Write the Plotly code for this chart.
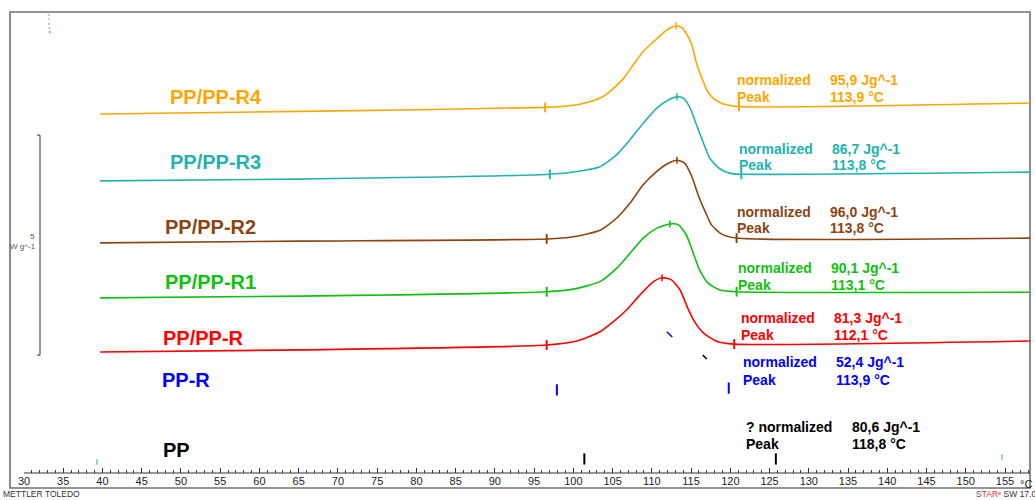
import plotly.graph_objects as go

# ---------------- data ----------------
names = ["PP/PP-R4", "PP/PP-R3", "PP/PP-R2", "PP/PP-R1", "PP/PP-R", "PP-R", "PP"]
colors = ["#FFA500", "#22B3B0", "#8B4513", "#11C011", "#FF0000", "#0000FF", "#000000"]
enthalpy = [95.9, 86.7, 96.0, 90.1, 81.3, 52.4, 80.6]      # J/g
peak_temp = [113.9, 113.8, 113.8, 113.1, 112.1, 113.9, 118.8]  # °C
prefix = ["", "", "", "", "", "", "? "]

# temperature (°C) / heat flow (W/g, with display offsets)
t_r4 = [39.7, 65.2, 96.4, 100.0, 102.1, 103.6, 104.9, 106.4, 107.6, 108.9, 110.2, 111.5, 112.5, 113.1,
        113.8, 114.4, 115.1, 115.7, 116.4, 117.0, 117.8, 119.1, 121.1, 158.2]
h_r4 = [6.50, 6.56, 6.65, 6.70, 6.78, 6.88, 7.05, 7.31, 7.61, 7.92, 8.14, 8.35, 8.47, 8.50,
        8.47, 8.33, 8.07, 7.65, 7.31, 7.05, 6.86, 6.73, 6.67, 6.75]

t_r3 = [39.7, 65.2, 97.0, 100.0, 103.4, 105.5, 107.2, 108.9, 110.6, 112.1, 113.2, 114.0, 114.9,
        115.7, 116.6, 117.4, 118.7, 120.0, 121.4, 158.2]
h_r3 = [4.98, 5.02, 5.13, 5.18, 5.30, 5.57, 5.91, 6.29, 6.63, 6.82, 6.89, 6.86, 6.63,
        6.25, 5.83, 5.49, 5.25, 5.15, 5.13, 5.18]

t_r2 = [39.7, 65.2, 96.6, 100.0, 103.4, 105.5, 107.2, 108.9, 110.6, 112.1, 113.2, 114.2, 115.1,
        115.9, 116.8, 117.6, 118.9, 120.8, 158.2]
h_r2 = [3.57, 3.61, 3.66, 3.71, 3.86, 4.13, 4.47, 4.89, 5.19, 5.38, 5.45, 5.38, 5.08,
        4.66, 4.28, 3.98, 3.77, 3.68, 3.68]

t_r1 = [39.7, 65.2, 96.6, 100.0, 103.4, 105.5, 107.2, 108.9, 110.6, 112.3, 113.4, 114.4, 115.3,
        116.1, 117.2, 118.7, 120.8, 158.2]
h_r1 = [2.32, 2.36, 2.46, 2.52, 2.69, 2.99, 3.33, 3.68, 3.90, 4.00, 3.98, 3.75, 3.33,
        2.95, 2.65, 2.50, 2.46, 2.45]

t_r = [39.7, 65.2, 96.6, 100.8, 103.4, 105.1, 106.8, 108.5, 110.2, 111.3, 112.5, 113.6, 114.6,
       115.3, 116.6, 118.3, 120.5, 158.2]
h_r = [1.09, 1.14, 1.25, 1.36, 1.55, 1.78, 2.05, 2.39, 2.69, 2.78, 2.73, 2.50, 2.08,
       1.82, 1.52, 1.33, 1.27, 1.34]

# integration limits and peak markers (T, heat flow)
limits_t = [[96.4, 121.1], [97.0, 121.4], [96.6, 120.8], [96.6, 120.8], [96.6, 120.5], [97.9, 119.8], [101.4, 125.8]]
limits_h = [[6.65, 6.67], [5.13, 5.13], [3.66, 3.68], [2.46, 2.46], [1.25, 1.27], [0.23, 0.27], [-1.34, -1.34]]
peaks_t = [113.1, 113.2, 113.2, 112.3, 111.3]
peaks_h = [8.50, 6.89, 5.45, 4.00, 2.78]

# stray curve fragments of the PP-R and PP traces
frag_blue_t = [111.9, 112.6]
frag_blue_h = [1.55, 1.43]
frag_black_t = [116.5, 117.0]
frag_black_h = [1.02, 0.93]

tick_vals = list(range(30, 160, 5))
SCALE_BAR = 5.0  # W/g

curves_t = [t_r4, t_r3, t_r2, t_r1, t_r]
curves_h = [h_r4, h_r3, h_r2, h_r1, h_r]

# ---------------- geometry helpers (pixel -> axis) ----------------
W, H = 1035, 500
ML, MR, MT, MB = 24, 5, 12, 12
PXPERC = 7.848
X0 = 30.0
XMAX = X0 + (W - ML - MR) / PXPERC
YTOP = (400 - MT) / 44.0
YBOT = (400 - (H - MB)) / 44.0


def X(px):
    return X0 + (px - ML) / PXPERC


def Y(py):
    return (400 - py) / 44.0


def PX(px):
    return (px - ML) / (W - ML - MR)


def PY(py):
    return (H - MB - py) / (H - MT - MB)


FONT = "Liberation Sans, Arial"
fig = go.Figure()

for t, h, c in zip(curves_t, curves_h, colors):
    fig.add_trace(go.Scatter(x=t, y=h, mode="lines", line=dict(color=c, width=1.6, shape="spline", smoothing=0.6),
                             hoverinfo="skip", showlegend=False))

for i, (lt, lh, c) in enumerate(zip(limits_t, limits_h, colors)):
    fig.add_trace(go.Scatter(x=lt, y=lh, mode="markers",
                             marker=dict(symbol="line-ns", size=7 if i < 5 else 8, line=dict(color=c, width=2)),
                             hoverinfo="skip", showlegend=False))

fig.add_trace(go.Scatter(x=peaks_t, y=peaks_h, mode="markers",
                         marker=dict(symbol="line-ns", size=5, line=dict(color=colors[:5], width=1.5)),
                         hoverinfo="skip", showlegend=False))

fig.add_trace(go.Scatter(x=frag_blue_t, y=frag_blue_h, mode="lines", line=dict(color=colors[5], width=1.5),
                         hoverinfo="skip", showlegend=False))
fig.add_trace(go.Scatter(x=frag_black_t, y=frag_black_h, mode="lines", line=dict(color=colors[6], width=1.5),
                         hoverinfo="skip", showlegend=False))

# small stray marks
fig.add_trace(go.Scatter(x=[X(97), X(1002)], y=[Y(462), Y(457)], mode="markers",
                         marker=dict(symbol="line-ns", size=4, line=dict(color="#22B3B0", width=1)),
                         hoverinfo="skip", showlegend=False))
fig.add_trace(go.Scatter(x=[X(48.5), X(48.7), X(49), X(49.3), X(49.8)],
                         y=[Y(15), Y(19), Y(24), Y(28), Y(32)], mode="markers",
                         marker=dict(symbol="circle", size=2, color=["#7fd0cc", "#9fd0d0", "#f5a0a0", "#90d890", "#8080ff"]),
                         hoverinfo="skip", showlegend=False))

annotations = []
label_pos = [(168, 97), (168, 162), (163, 227), (163, 282), (161, 338), (160, 380), (161, 450)]
for n, c, (lx, ly) in zip(names, colors, label_pos):
    annotations.append(dict(x=X(lx), y=Y(ly), xref="x", yref="y", text="<b>%s</b>" % n, showarrow=False,
                            xanchor="left", yanchor="middle",
                            font=dict(family=FONT, size=20, color=c)))

res_pos = [(735, 828, 80, 97), (737, 830, 149, 165), (735, 828, 212, 228), (736, 829, 268, 285),
           (739, 832, 318, 335), (741, 834, 362, 380), (744, 850, 427, 444)]
for e, p, pre, c, (xl, xv, y1, y2) in zip(enthalpy, peak_temp, prefix, colors, res_pos):
    f = dict(family=FONT, size=14, color=c)
    common = dict(xref="x", yref="y", showarrow=False, xanchor="left", yanchor="middle", font=f)
    annotations += [
        dict(x=X(xl), y=Y(y1), text="<b>%snormalized</b>" % pre, **common),
        dict(x=X(xl), y=Y(y2), text="<b>Peak</b>", **common),
        dict(x=X(xv), y=Y(y1), text="<b>%s Jg^-1</b>" % ("%.1f" % e).replace(".", ","), **common),
        dict(x=X(xv), y=Y(y2), text="<b>%s °C</b>" % ("%.1f" % p).replace(".", ","), **common),
    ]

# scale bar label and footer texts
annotations += [
    dict(x=PX(37), y=Y(236), xref="paper", yref="y", text="5", showarrow=False, xanchor="right",
         yanchor="middle", font=dict(family=FONT, size=8, color="#555")),
    dict(x=PX(38), y=Y(246), xref="paper", yref="y", text="W g^-1", showarrow=False, xanchor="right",
         yanchor="middle", font=dict(family=FONT, size=8, color="#555")),
    dict(x=PX(1018), y=PY(484), xref="paper", yref="paper", text="°C", showarrow=False, xanchor="left",
         yanchor="middle", font=dict(family=FONT, size=11, color="#222")),
    dict(x=PX(1), y=PY(494), xref="paper", yref="paper", text="METTLER TOLEDO", showarrow=False,
         xanchor="left", yanchor="middle", font=dict(family=FONT, size=8.5, color="#333")),
    dict(x=PX(974), y=PY(494), xref="paper", yref="paper",
         text="<span style='color:#555'>S</span><span style='color:#e03030'>TAR</span>"
              "<span style='color:#e03030'>ᵉ</span> SW 17.00",
         showarrow=False, xanchor="left", yanchor="middle",
         font=dict(family=FONT, size=8.5, color="#333")),
]

shapes = [
    # frame
    dict(type="rect", xref="paper", yref="paper", x0=PX(10), x1=1, y0=0, y1=1,
         line=dict(color="#707070", width=1.6), layer="below"),
    # temperature axis line
    dict(type="line", xref="x", yref="paper", x0=X0, x1=XMAX, y0=PY(473), y1=PY(473),
         line=dict(color="#333", width=1)),
    # scale bar
    dict(type="line", xref="paper", yref="y", x0=PX(40), x1=PX(40), y0=1.02, y1=1.02 + SCALE_BAR,
         line=dict(color="#333", width=1)),
    dict(type="line", xref="paper", yref="y", x0=PX(37), x1=PX(40), y0=1.02 + SCALE_BAR, y1=1.02 + SCALE_BAR,
         line=dict(color="#333", width=1)),
    dict(type="line", xref="paper", yref="y", x0=PX(37), x1=PX(40), y0=1.02, y1=1.02,
         line=dict(color="#333", width=1)),
]

fig.update_layout(
    width=W, height=H,
    margin=dict(l=ML, r=MR, t=MT, b=MB),
    paper_bgcolor="white", plot_bgcolor="white",
    showlegend=False,
    annotations=annotations,
    shapes=shapes,
    xaxis=dict(range=[X0, XMAX], anchor="free", position=PY(473), showline=False, showgrid=False,
               zeroline=False, tickmode="array", tickvals=tick_vals, ticks="inside", ticklen=5,
               tickcolor="#333", tickwidth=1,
               minor=dict(dtick=1, tick0=30, ticks="inside", ticklen=3, tickcolor="#333", showgrid=False),
               tickfont=dict(family=FONT, size=11, color="#222")),
    yaxis=dict(range=[YBOT, YTOP], visible=False, showgrid=False, zeroline=False),
)

fig.write_html("out.html", config={"displayModeBar": False},
               post_script="document.body.style.margin='0px';document.body.style.overflow='hidden';")
